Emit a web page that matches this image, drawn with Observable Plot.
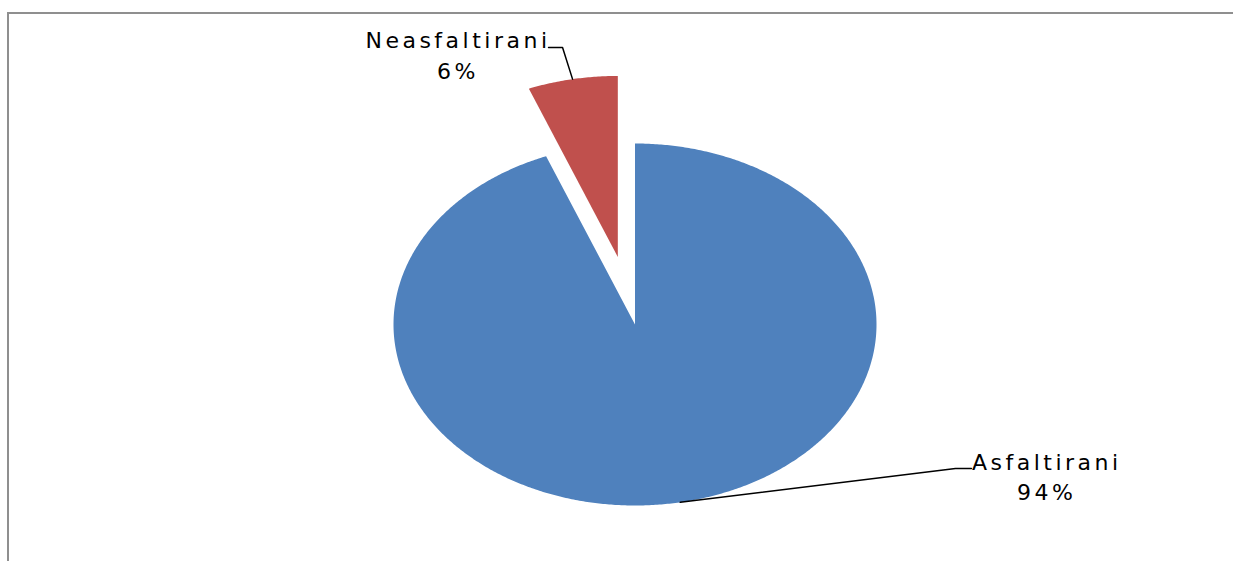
<!DOCTYPE html>
<html>
<head>
<meta charset="utf-8">
<script src="https://cdn.jsdelivr.net/npm/d3@7"></script>
<script src="https://cdn.jsdelivr.net/npm/@observablehq/plot@0.6"></script>
<style>
  html, body { margin: 0; padding: 0; background: #fff; overflow: hidden; }
  #wrap { position: relative; width: 1233px; height: 561px; }
  #frame { position: absolute; left: 7px; top: 12px; width: 1240px; height: 600px;
           border-left: 2px solid #8f8f8f; border-top: 2px solid #8f8f8f; }
  #chart { position: absolute; left: 0; top: 0; }
  #chart svg text { letter-spacing: 3.5px; }
</style>
</head>
<body>
<div id="wrap"><div id="frame"></div><div id="chart"></div></div>
<script>
// ---- data ----
const categories = ["Asfaltirani", "Neasfaltirani"];
const values = [94, 6];
const colors = ["#4F81BD", "#C0504D"];
const explode = [0, 0.38];            // slice offset along mid-angle (unit radius)
// label anchors (unit ellipse space) and leader elbows
const labelPos = [[1.705, -0.972], [-0.733, 1.359]];
const leaderElbow = [[[1.327, -0.796], [1.393, -0.796]], [[-0.300, 1.530], [-0.358, 1.530]]];

// ---- layout ----
const W = 1233, H = 561;
const cx = 634.5, cy = 324, rx = 241.5, ry = 181;

const total = d3.sum(values);
const slicePts = [], leaders = [], labels = [];
let acc = 0;
categories.forEach((cat, i) => {
  const a0 = acc / total * 2 * Math.PI;
  const a1 = (acc + values[i]) / total * 2 * Math.PI;
  acc += values[i];
  const mid = (a0 + a1) / 2;
  const ox = explode[i] * Math.sin(mid), oy = explode[i] * Math.cos(mid);
  slicePts.push({cat, u: ox, v: oy});
  const n = Math.max(8, Math.ceil((a1 - a0) * 120));
  for (let j = 0; j <= n; j++) {
    const a = a0 + (a1 - a0) * j / n;
    slicePts.push({cat, u: ox + Math.sin(a), v: oy + Math.cos(a)});
  }
  leaders.push({cat, u: ox + Math.sin(mid), v: oy + Math.cos(mid)});
  leaderElbow[i].forEach(([u, v]) => leaders.push({cat, u, v}));
  labels.push({cat, u: labelPos[i][0], v: labelPos[i][1],
               text: cat + "\n" + Math.round(values[i] / total * 100) + "%"});
});

const chart = Plot.plot({
  width: W, height: H,
  margin: 0,
  x: {domain: [-1, 1], range: [cx - rx, cx + rx], axis: null},
  y: {domain: [-1, 1], range: [cy + ry, cy - ry], axis: null},
  color: {domain: categories, range: colors},
  style: {background: "transparent", overflow: "visible"},
  marks: [
    Plot.line(slicePts, {x: "u", y: "v", z: "cat", fill: "cat", stroke: null, curve: "linear-closed"}),
    Plot.line(leaders, {x: "u", y: "v", z: "cat", stroke: "#000", strokeWidth: 1.5}),
    Plot.text(labels, {x: "u", y: "v", text: "text", textAnchor: "middle", lineAnchor: "bottom",
                       lineHeight: 1.4, fontSize: 22, fontFamily: "DejaVu Sans", fill: "#000"})
  ]
});
document.getElementById("chart").appendChild(chart);
</script>
</body>
</html>
